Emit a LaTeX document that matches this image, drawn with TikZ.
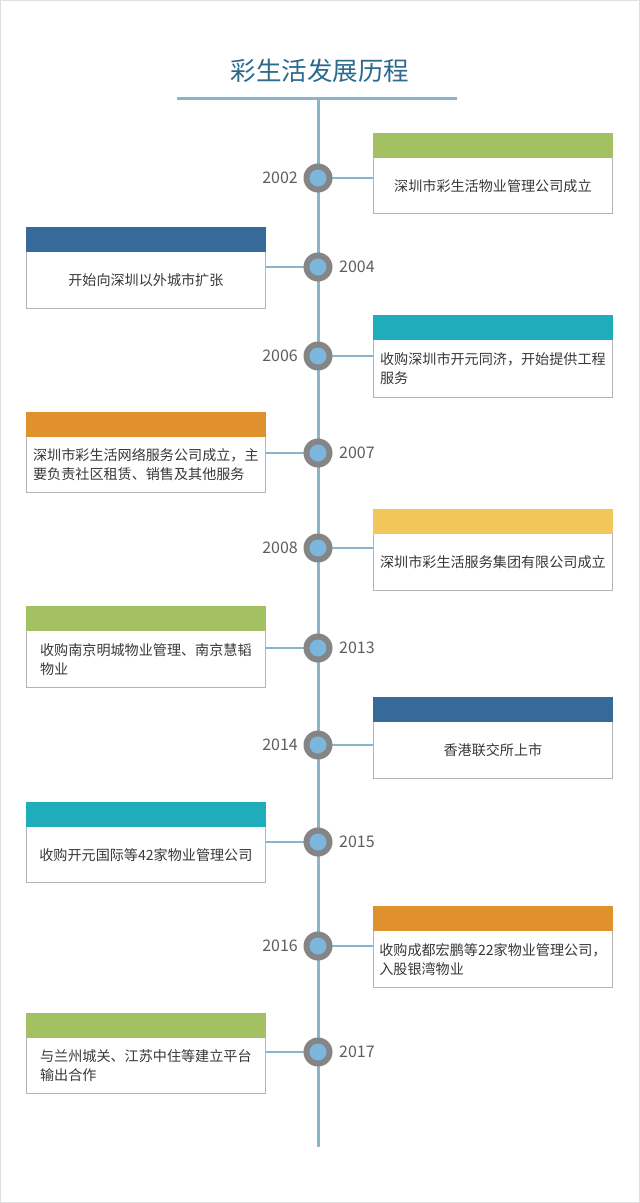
\documentclass[tikz,border=0pt]{standalone}
\usepackage{fontspec}
\setmainfont{Noto Sans CJK SC}
\usetikzlibrary{calc}
\definecolor{trunk}{HTML}{88B4CC}
\definecolor{ringgray}{HTML}{858585}
\definecolor{dotblue}{HTML}{7DB6DC}
\definecolor{boxgray}{HTML}{B4B4B4}
\definecolor{yeargray}{HTML}{5E5E5E}
\definecolor{bodytext}{HTML}{383838}
\definecolor{titleblue}{HTML}{2C6A8E}
\definecolor{hgreen}{HTML}{A3C163}
\definecolor{hblue}{HTML}{356A99}
\definecolor{hteal}{HTML}{1FACBB}
\definecolor{horange}{HTML}{E0902D}
\definecolor{hyellow}{HTML}{F3C65C}
\tikzset{
  dot/.style={circle, fill=ringgray, minimum size=29pt, inner sep=0pt},
  dotin/.style={circle, fill=dotblue, minimum size=17pt, inner sep=0pt},
  evbox/.style={draw=boxgray, line width=0.8pt, fill=white, minimum width=239pt, anchor=north west, inner sep=0pt},
  yearlbl/.style={font=\fontsize{16}{18}\selectfont, text=yeargray, inner sep=0pt},
  bodytxt/.style={font=\fontsize{14.1}{19}\selectfont, text=bodytext, align=left, inner sep=0pt},
  conn/.style={draw=trunk, line width=2.5pt},
}
\newcommand{\evR}[7]{%
  \coordinate (k#1) at (318,#3);
  \node[evbox, minimum height={#5-#4}] (b#1) at (373,#4) {};
  \fill[#6] (b#1.north west) rectangle ($(b#1.north east)+(0,25)$);
  \node[bodytxt] (t#1) at ($(b#1.center)+(0,12.5)$) {#7};
  \draw[conn] (k#1) -- (k#1 -| b#1.west);
  \node[dot] (c#1) at (k#1) {};
  \node[dotin] (d#1) at (c#1) {};
  \node[yearlbl, anchor=east] (y#1) at (298,#3) {#2};
}
\newcommand{\evL}[7]{%
  \coordinate (k#1) at (318,#3);
  \node[evbox, minimum height={#5-#4}] (b#1) at (26,#4) {};
  \fill[#6] (b#1.north west) rectangle ($(b#1.north east)+(0,25)$);
  \node[bodytxt] (t#1) at ($(b#1.center)+(0,12.5)$) {#7};
  \draw[conn] (k#1) -- (k#1 -| b#1.east);
  \node[dot] (c#1) at (k#1) {};
  \node[dotin] (d#1) at (c#1) {};
  \node[yearlbl, anchor=west] (y#1) at (339,#3) {#2};
}
\begin{document}
\begin{tikzpicture}[x=1pt,y=-1pt]
\useasboundingbox (0,0) rectangle (640,1203);
\fill[white] (0,0) rectangle (640,1203);
\draw[gray!25, line width=1pt] (0.8,0.8) rectangle (639.2,1202.2);
\node[font=\fontsize{25.5}{30}\selectfont, text=titleblue, inner sep=0pt] (title) at (320,71) {彩生活发展历程};
\coordinate (hl) at (177,98);
\coordinate (hr) at (457,98);
\coordinate (top) at (318,98);
\coordinate (bot) at (318,1147);
\draw[trunk, line width=3pt] (hl) -- (hr);
\draw[trunk, line width=3pt] (top) -- (bot);
\evR{a}{2002}{178}{133}{213}{hgreen}{深圳市彩生活物业管理公司成立}
\evL{b}{2004}{267}{227}{308}{hblue}{开始向深圳以外城市扩张}
\evR{c}{2006}{356}{315}{397}{hteal}{收购深圳市开元同济，开始提供工程\\服务}
\evL{d}{2007}{453}{412}{492}{horange}{深圳市彩生活网络服务公司成立，主\\要负责社区租赁、销售及其他服务}
\evR{e}{2008}{548}{509}{590}{hyellow}{深圳市彩生活服务集团有限公司成立}
\evL{f}{2013}{648}{606}{687}{hgreen}{收购南京明城物业管理、南京慧韬\\物业}
\evR{g}{2014}{745}{697}{778}{hblue}{香港联交所上市}
\evL{h}{2015}{842}{802}{882}{hteal}{收购开元国际等42家物业管理公司}
\evR{i}{2016}{946}{906}{987}{horange}{收购成都宏鹏等22家物业管理公司，\\入股银湾物业}
\evL{j}{2017}{1052}{1013}{1093}{hgreen}{与兰州城关、江苏中住等建立平台\\输出合作}
\end{tikzpicture}
\end{document}
